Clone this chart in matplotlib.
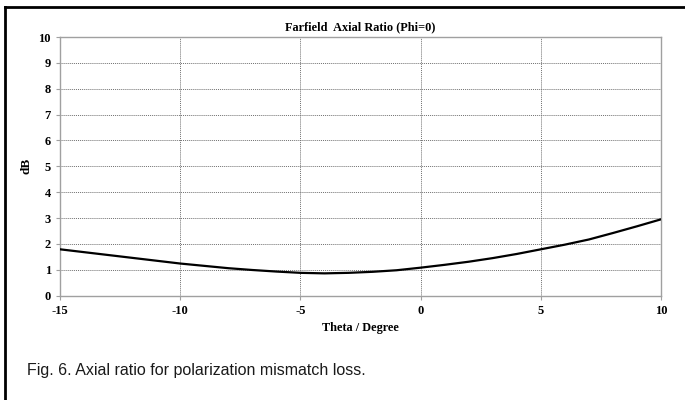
import matplotlib
matplotlib.use("Agg")
import matplotlib.pyplot as plt
from matplotlib.lines import Line2D

# axial ratio
theta = [-15, -14, -13, -12, -11, -10, -9, -8, -7, -6, -5, -4, -3, -2, -1,
         0, 1, 2, 3, 4, 5, 6, 7, 8, 9, 10]
axial_ratio = [1.79, 1.68, 1.57, 1.46, 1.35, 1.24, 1.15, 1.06, 0.99, 0.93,
               0.88, 0.86, 0.88, 0.92, 0.98, 1.08, 1.19, 1.31, 1.45, 1.61,
               1.79, 1.97, 2.17, 2.42, 2.68, 2.95]

x_ticks = [-15, -10, -5, 0, 5, 10]
y_ticks = list(range(0, 11))

serif = "Liberation Serif"
plt.rcParams["axes.unicode_minus"] = False

fig = plt.figure(figsize=(6.85, 4.0), dpi=100)
ax = fig.add_axes([0.0876, 0.261, 0.8774, 0.6465])

ax.plot(theta, axial_ratio, color="black", linewidth=1.6, zorder=3)

ax.set_xlim(-15, 10)
ax.set_ylim(0, 10)
ax.set_xticks(x_ticks)
ax.set_yticks(y_ticks)
ax.grid(True, color="#707070", linestyle=(0, (1, 1)), linewidth=0.7)

for s in ax.spines.values():
    s.set_color("#a0a0a0")
    s.set_linewidth(1.0)
ax.tick_params(colors="#a0a0a0", length=3, width=0.8, labelcolor="black")
for lab in ax.get_xticklabels() + ax.get_yticklabels():
    lab.set_fontfamily(serif)
    lab.set_fontweight("bold")
    lab.set_fontsize(9)

ax.set_title("Farfield  Axial Ratio (Phi=0)", family=serif, fontweight="bold",
             fontsize=8.8, pad=5)
ax.set_xlabel("Theta / Degree", family=serif, fontweight="bold", fontsize=8.8,
              labelpad=4)
ax.set_ylabel("dB", family=serif, fontweight="bold", fontsize=9.5, labelpad=4)

# caption below the chart
fig.text(0.04, 0.075, "Fig. 6. Axial ratio for polarization mismatch loss.",
         family="Liberation Sans", fontsize=11.5, color="#1a1a1a",
         ha="left", va="center")

# page frame (left and top edges)
fig.add_artist(Line2D([5 / 685, 5 / 685], [0, 1 - 7 / 400],
                      transform=fig.transFigure, color="black", linewidth=2))
fig.add_artist(Line2D([5 / 685, 1], [1 - 7 / 400, 1 - 7 / 400],
                      transform=fig.transFigure, color="black", linewidth=2))

fig.savefig("out.png", dpi=100)
